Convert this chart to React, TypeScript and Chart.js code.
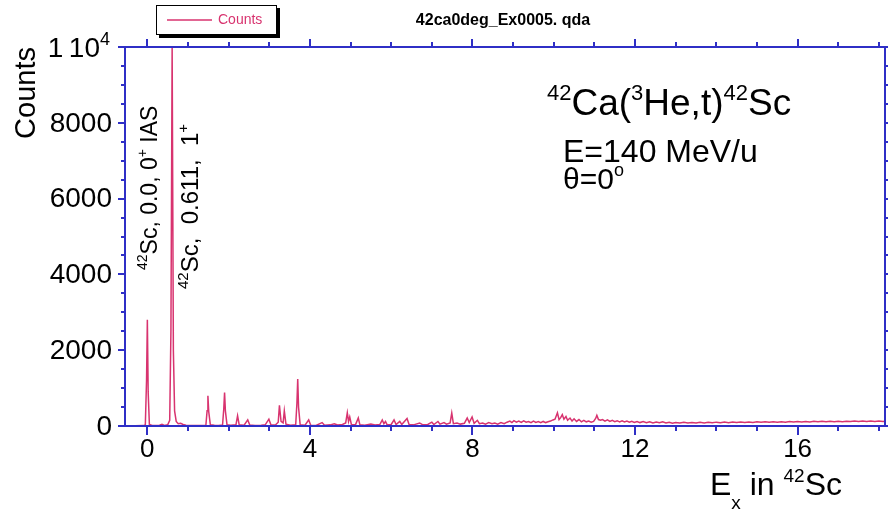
import React, { useEffect, useRef } from "react";
import { Chart, registerables } from "chart.js";

Chart.register(...registerables);

// ---------- data ----------
// discrete states region, [Ex (MeV), counts]
const lowSpectrum: [number, number][] = [
  [-0.55, 0], [-0.3, 5], [-0.1, 10], [-0.05, 30], [-0.02, 1200], [0.0, 2800], [0.02, 900], [0.05, 40],
  [0.12, 15], [0.2, 10], [0.3, 20], [0.36, 45], [0.42, 15], [0.5, 30], [0.55, 150], [0.58, 2500],
  [0.61, 10000], [0.64, 2000], [0.67, 400], [0.71, 120], [0.76, 60], [0.82, 70], [0.88, 40], [0.95, 20],
  [1.05, 15], [1.2, 10], [1.35, 15], [1.44, 20], [1.47, 400], [1.49, 800], [1.51, 380], [1.55, 30],
  [1.65, 20], [1.75, 15], [1.85, 25], [1.88, 450], [1.9, 880], [1.92, 400], [1.96, 30], [2.05, 20],
  [2.18, 30], [2.22, 270], [2.26, 30], [2.38, 20], [2.47, 160], [2.52, 25], [2.65, 15], [2.8, 20],
  [2.9, 30], [2.99, 180], [3.04, 30], [3.15, 25], [3.22, 100], [3.25, 545], [3.29, 120], [3.34, 80],
  [3.37, 400], [3.41, 50], [3.52, 20], [3.65, 30], [3.68, 600], [3.7, 1240], [3.72, 500], [3.76, 30],
  [3.88, 20], [3.97, 160], [4.02, 20], [4.15, 15], [4.3, 90], [4.36, 20], [4.5, 30], [4.6, 60],
  [4.68, 25], [4.8, 40], [4.88, 80], [4.92, 350], [4.95, 120], [4.98, 240], [5.02, 40], [5.12, 30],
  [5.19, 210], [5.23, 30], [5.35, 20], [5.5, 50], [5.6, 25], [5.72, 40], [5.78, 160], [5.82, 60],
  [5.86, 120], [5.9, 30], [6.0, 40], [6.07, 160], [6.12, 40], [6.21, 120], [6.26, 40], [6.39, 200],
  [6.44, 40], [6.55, 30], [6.7, 80], [6.78, 30], [6.9, 40], [7.0, 100], [7.05, 40], [7.15, 120],
  [7.2, 50], [7.3, 90], [7.36, 50], [7.45, 80], [7.49, 340], [7.53, 60], [7.62, 80], [7.7, 50],
  [7.8, 70], [7.87, 210], [7.92, 90], [7.99, 240], [8.04, 70],
];

// continuum region, [Ex (MeV), counts]
const continuum: [number, number][] = [
  [8.12, 150], [8.17, 60], [8.25, 80], [8.32, 50], [8.4, 90], [8.48, 60], [8.55, 80], [8.62, 50],
  [8.7, 90], [8.78, 60], [8.85, 100], [8.92, 130], [8.97, 90], [9.02, 140], [9.08, 100], [9.14, 130],
  [9.2, 95], [9.26, 135], [9.32, 100], [9.38, 120], [9.44, 90], [9.5, 130], [9.56, 95], [9.62, 115],
  [9.68, 85], [9.74, 120], [9.8, 90], [9.86, 110], [9.92, 130], [9.98, 160], [10.03, 180], [10.09, 350],
  [10.13, 170], [10.17, 220], [10.21, 300], [10.25, 180], [10.3, 250], [10.34, 150], [10.4, 210], [10.45, 130],
  [10.5, 190], [10.56, 120], [10.62, 170], [10.68, 110], [10.74, 150], [10.8, 110], [10.86, 130], [10.92, 100],
  [10.98, 120], [11.03, 200], [11.06, 280], [11.1, 170], [11.15, 150], [11.2, 170], [11.26, 130], [11.32, 160],
  [11.38, 120], [11.44, 150], [11.5, 115], [11.56, 140], [11.62, 110], [11.68, 135], [11.74, 105], [11.8, 130],
  [11.86, 100], [11.92, 125], [11.98, 95], [12.05, 120], [12.12, 90], [12.2, 115], [12.28, 85], [12.36, 110],
  [12.44, 80], [12.52, 105], [12.6, 85], [12.68, 110], [12.76, 80], [12.84, 100], [12.92, 75], [13.0, 95],
  [13.1, 80], [13.2, 100], [13.3, 78], [13.4, 95], [13.5, 80], [13.6, 98], [13.7, 82], [13.8, 100],
  [13.9, 85], [14.0, 102], [14.1, 86], [14.2, 104], [14.3, 88], [14.4, 105], [14.5, 90], [14.6, 106],
  [14.7, 92], [14.8, 108], [14.9, 94], [15.0, 110], [15.1, 96], [15.2, 112], [15.3, 98], [15.4, 113],
  [15.5, 100], [15.6, 115], [15.7, 102], [15.8, 117], [15.9, 104], [16.0, 118], [16.1, 106], [16.2, 120],
  [16.3, 108], [16.4, 122], [16.5, 110], [16.6, 124], [16.7, 112], [16.8, 125], [16.9, 113], [17.0, 127],
  [17.1, 115], [17.2, 128], [17.3, 117], [17.4, 130], [17.5, 118], [17.6, 131], [17.7, 120], [17.8, 132],
  [17.9, 121], [18.0, 133], [18.1, 122], [18.2, 134],
];

const xTickValues = [0, 4, 8, 12, 16];
const xTickLabels = ["0", "4", "8", "12", "16"];
const yTickValues = [0, 2000, 4000, 6000, 8000, 10000];
const yTickLabels = ["0", "2000", "4000", "6000", "8000", "1\u200910"];
const yTickSup = ["", "", "", "", "", "4"];

const X_MIN = -0.55;
const X_MAX = 18.15;
const Y_MIN = 0;
const Y_MAX = 10000;

const BLUE = "#2f2fc6";
const RED = "#d8336f";
const FONT = "'Liberation Sans', Arial, Helvetica, sans-serif";

type Part = { t: string; size: number; dy: number };

function drawRich(ctx: CanvasRenderingContext2D, x: number, y: number, parts: Part[], color: string) {
  let cx = x;
  ctx.fillStyle = color;
  ctx.textAlign = "left";
  ctx.textBaseline = "alphabetic";
  for (const p of parts) {
    ctx.font = `${p.size}px ${FONT}`;
    ctx.fillText(p.t, cx, y + p.dy);
    cx += ctx.measureText(p.t).width;
  }
  return cx - x;
}

const decorPlugin = {
  id: "decor",
  afterDraw(chart: any) {
    const ctx: CanvasRenderingContext2D = chart.ctx;
    const xs = chart.scales.x;
    const ys = chart.scales.y;
    const { left, right, top, bottom } = chart.chartArea;
    ctx.save();

    // frame
    ctx.strokeStyle = BLUE;
    ctx.lineWidth = 2;
    ctx.strokeRect(left, top, right - left, bottom - top);

    // x ticks (bottom and top, outward)
    for (let v = 0; v <= 18; v += 1) {
      const px = Math.round(xs.getPixelForValue(v));
      const major = v % 4 === 0;
      ctx.beginPath();
      ctx.moveTo(px, bottom);
      ctx.lineTo(px, bottom + (major ? 9 : 5));
      ctx.moveTo(px, top);
      ctx.lineTo(px, top - (major ? 8 : 5));
      ctx.stroke();
    }
    // y ticks (left and right, outward)
    for (let v = 0; v <= 10000; v += 500) {
      const py = Math.round(ys.getPixelForValue(v));
      const major = v % 2000 === 0;
      ctx.beginPath();
      ctx.moveTo(left, py);
      ctx.lineTo(left - (major ? 7 : 4), py);
      ctx.moveTo(right, py);
      ctx.lineTo(right + (major ? 7 : 4), py);
      ctx.stroke();
    }

    // x tick labels
    ctx.fillStyle = "#000";
    ctx.font = `26px ${FONT}`;
    ctx.textAlign = "center";
    ctx.textBaseline = "top";
    xTickValues.forEach((v, i) => {
      ctx.fillText(xTickLabels[i], xs.getPixelForValue(v), bottom + 11);
    });

    // y tick labels
    yTickValues.forEach((v, i) => {
      const py = ys.getPixelForValue(v);
      ctx.font = `28px ${FONT}`;
      ctx.textBaseline = "middle";
      ctx.textAlign = "right";
      ctx.fillStyle = "#000";
      if (yTickSup[i]) {
        ctx.fillText(yTickLabels[i], left - 25, py + 2);
        ctx.font = `18px ${FONT}`;
        ctx.textAlign = "left";
        ctx.textBaseline = "alphabetic";
        ctx.fillText(yTickSup[i], left - 25, py - 2);
      } else {
        ctx.fillText(yTickLabels[i], left - 13, py + 1);
      }
    });

    // y axis title
    ctx.save();
    ctx.translate(35, 93);
    ctx.rotate(-Math.PI / 2);
    ctx.font = `29px ${FONT}`;
    ctx.fillStyle = "#000";
    ctx.textAlign = "center";
    ctx.textBaseline = "alphabetic";
    ctx.fillText("Counts", 0, 0);
    ctx.restore();

    // x axis title
    drawRich(ctx, 710, 495, [
      { t: "E", size: 32, dy: 0 },
      { t: "x", size: 19, dy: 14 },
      { t: " in ", size: 32, dy: 0 },
      { t: "42", size: 19, dy: -13 },
      { t: "Sc", size: 32, dy: 0 },
    ], "#000");

    // top title
    ctx.font = `bold 16px ${FONT}`;
    ctx.fillStyle = "#000";
    ctx.textAlign = "center";
    ctx.textBaseline = "middle";
    ctx.fillText("42ca0deg_Ex0005. qda", 503, 21);

    // legend box
    ctx.fillStyle = "#000";
    ctx.fillRect(159, 8, 121, 30);
    ctx.fillStyle = "#fff";
    ctx.fillRect(156, 5, 121, 30);
    ctx.strokeStyle = "#000";
    ctx.lineWidth = 1;
    ctx.strokeRect(156.5, 5.5, 120, 29);
    ctx.strokeStyle = RED;
    ctx.lineWidth = 1.5;
    ctx.beginPath();
    ctx.moveTo(167, 20);
    ctx.lineTo(212, 20);
    ctx.stroke();
    ctx.fillStyle = RED;
    ctx.font = `14px ${FONT}`;
    ctx.textAlign = "left";
    ctx.textBaseline = "middle";
    ctx.fillText("Counts", 218, 20);

    // reaction annotation
    drawRich(ctx, 547, 115, [
      { t: "42", size: 22, dy: -15 },
      { t: "Ca(", size: 37, dy: 0 },
      { t: "3", size: 22, dy: -15 },
      { t: "He,t)", size: 37, dy: 0 },
      { t: "42", size: 22, dy: -15 },
      { t: "Sc", size: 37, dy: 0 },
    ], "#000");
    drawRich(ctx, 563, 162, [{ t: "E=140 MeV/u", size: 32, dy: 0 }], "#000");
    drawRich(ctx, 563, 189, [
      { t: "\u03b8=0", size: 30, dy: 0 },
      { t: "o", size: 18, dy: -13 },
    ], "#000");

    // state labels (rotated)
    const rot = (x: number, y: number, parts: Part[]) => {
      ctx.save();
      ctx.translate(x, y);
      ctx.rotate(-Math.PI / 2);
      drawRich(ctx, 0, 0, parts, "#000");
      ctx.restore();
    };
    rot(157, 270, [
      { t: "42", size: 14, dy: -10 },
      { t: "Sc, 0.0, 0", size: 23, dy: 0 },
      { t: "+", size: 14, dy: -10 },
      { t: " IAS", size: 23, dy: 0 },
    ]);
    rot(198, 289, [
      { t: "42", size: 15, dy: -10 },
      { t: "Sc,  0.611,  1", size: 24, dy: 0 },
      { t: "+", size: 15, dy: -10 },
    ]);

    ctx.restore();
  },
};

export default function App() {
  const ref = useRef<HTMLCanvasElement | null>(null);
  useEffect(() => {
    if (!ref.current) return;
    const spectrum = [...lowSpectrum, ...continuum].map(([x, y]) => ({ x, y }));
    const chart = new Chart(ref.current, {
      type: "line",
      data: {
        datasets: [
          {
            label: "Counts",
            data: spectrum,
            borderColor: RED,
            borderWidth: 1.5,
            pointRadius: 0,
            tension: 0,
            fill: false,
          },
        ],
      },
      options: {
        responsive: false,
        animation: false,
        devicePixelRatio: 1,
        layout: { padding: { left: 125, top: 47, right: 3, bottom: 92 } },
        plugins: { legend: { display: false }, tooltip: { enabled: false }, title: { display: false } },
        scales: {
          x: { type: "linear", min: X_MIN, max: X_MAX, display: false },
          y: { type: "linear", min: Y_MIN, max: Y_MAX, display: false },
        },
      },
      plugins: [decorPlugin],
    });
    return () => chart.destroy();
  }, []);
  return (
    <div style={{ position: "fixed", left: 0, top: 0, width: 888, height: 518, background: "#fff" }}>
      <canvas ref={ref} width={888} height={518} style={{ width: 888, height: 518, display: "block" }} />
    </div>
  );
}
